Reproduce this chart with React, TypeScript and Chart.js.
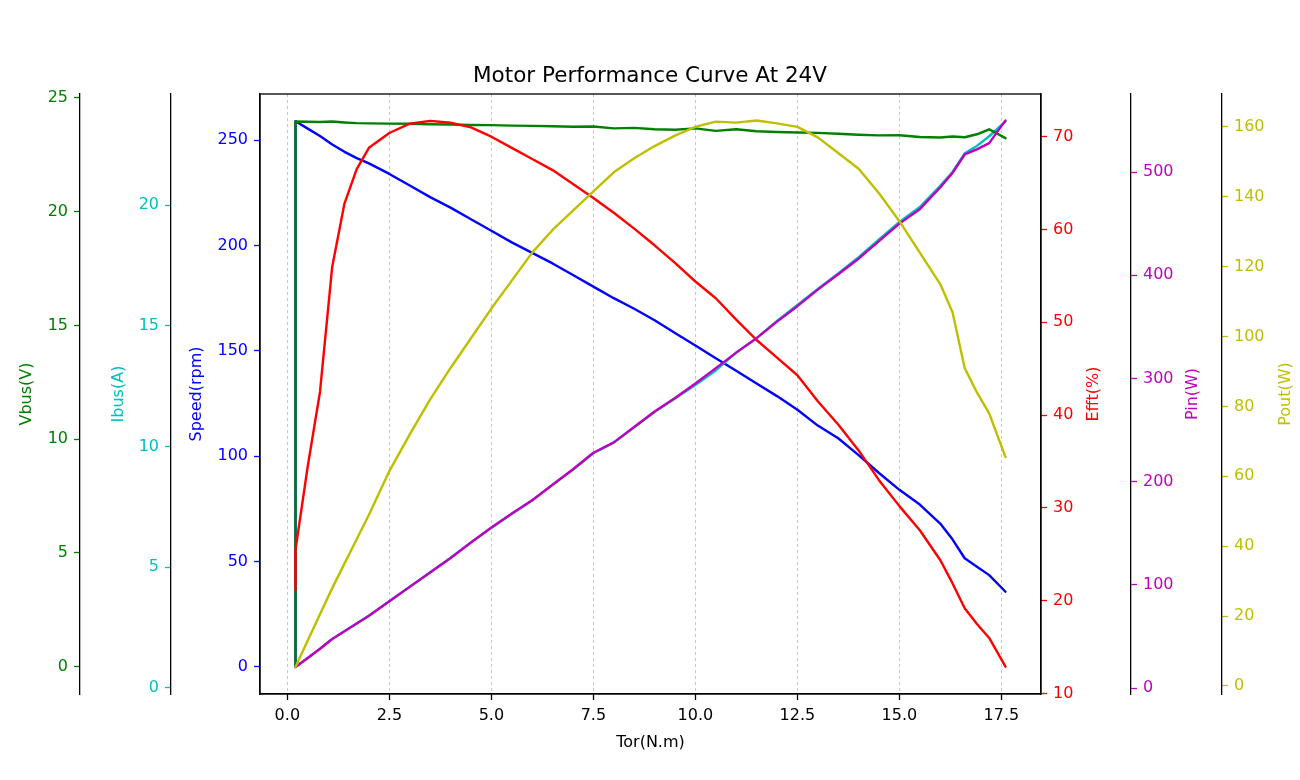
import { useEffect, useRef } from 'react';
import { Chart, registerables } from 'chart.js';

Chart.register(...registerables);

// ---------- data ----------
const torque = [0.2, 0.2, 0.5, 0.8, 1.1, 1.4, 1.7, 2.0, 2.5, 3.0, 3.5, 4.0, 4.5, 5.0, 5.5, 6.0, 6.5, 7.0, 7.5, 8.0, 8.5, 9.0, 9.5, 10.0, 10.5, 11.0, 11.5, 12.0, 12.5, 13.0, 13.5, 14.0, 14.5, 15.0, 15.5, 16.0, 16.3, 16.6, 16.9, 17.2, 17.6];

const speed = [0, 259, 255.5, 252, 248, 244.5, 241.5, 239, 234, 228.5, 223, 218, 212.5, 207, 201.5, 196.5, 191.5, 186, 180.5, 175, 170, 164.5, 158.5, 152.5, 146.5, 140.5, 134.5, 128.5, 122, 114.5, 108.5, 100.5, 92, 84, 77, 68, 60.5, 51.5, 47.5, 43.5, 35.6];

const vbus = [0, 23.96, 23.95, 23.94, 23.96, 23.92, 23.89, 23.88, 23.87, 23.86, 23.84, 23.83, 23.81, 23.8, 23.78, 23.77, 23.75, 23.73, 23.74, 23.66, 23.68, 23.62, 23.6, 23.66, 23.55, 23.62, 23.53, 23.5, 23.48, 23.46, 23.42, 23.38, 23.35, 23.36, 23.28, 23.26, 23.3, 23.27, 23.4, 23.62, 23.23];

const ibus = [0.87, 0.87, 1.24, 1.62, 2.03, 2.35, 2.67, 2.99, 3.59, 4.19, 4.79, 5.38, 6.03, 6.63, 7.2, 7.76, 8.42, 9.04, 9.72, 10.16, 10.8, 11.43, 11.99, 12.55, 13.15, 13.89, 14.49, 15.2, 15.86, 16.53, 17.17, 17.84, 18.58, 19.3, 19.92, 20.8, 21.37, 22.14, 22.45, 22.85, 23.47];

const eff = [21.2, 25.5, 34.5, 42.5, 56.0, 62.8, 66.5, 68.8, 70.4, 71.4, 71.7, 71.5, 71.0, 70.0, 68.8, 67.6, 66.4, 64.9, 63.4, 61.8, 60.1, 58.3, 56.4, 54.4, 52.6, 50.3, 48.1, 46.2, 44.3, 41.5, 39.0, 36.2, 33.0, 30.2, 27.6, 24.4, 21.9, 19.2, 17.5, 16.0, 12.9];

const pin = [20.3, 20.3, 29, 38, 47.5, 55, 62.5, 70, 84, 98, 112, 126, 141, 155.5, 169, 182, 197, 212, 228, 238, 253, 268, 281, 295, 310, 325, 339, 355, 370, 386, 401, 416, 433, 450, 464, 485, 499, 517, 522, 528, 550];

const pout = [5.4, 5.4, 13, 20.5, 28, 35, 42, 49, 61.5, 72, 82, 91, 99.5, 108, 116, 124, 130.5, 136, 141.5, 147, 151, 154.5, 157.5, 160, 161.5, 161.2, 161.8, 161, 160, 157, 152.5, 148, 141, 133, 124, 115, 107, 91, 84, 78, 65.5];

// tick values
const xTicks = [0, 2.5, 5, 7.5, 10, 12.5, 15, 17.5];
const speedTicks = [0, 50, 100, 150, 200, 250];
const vbusTicks = [0, 5, 10, 15, 20, 25];
const ibusTicks = [0, 5, 10, 15, 20];
const effTicks = [10, 20, 30, 40, 50, 60, 70];
const pinTicks = [0, 100, 200, 300, 400, 500];
const poutTicks = [0, 20, 40, 60, 80, 100, 120, 140, 160];

const titleText = 'Motor Performance Curve At 24V';
const xLabel = 'Tor(N.m)';

const FONT = "'DejaVu Sans', sans-serif";

const C_SPEED = '#0000ff';
const C_VBUS = '#008000';
const C_IBUS = '#00bfbf';
const C_EFF = '#ff0000';
const C_PIN = '#bf00bf';
const C_POUT = '#bfbf00';

const axisTitles = [
  { id: 'yV', text: 'Vbus(V)', color: C_VBUS, dx: 27 },
  { id: 'yI', text: 'Ibus(A)', color: C_IBUS, dx: 39 },
  { id: 'yS', text: 'Speed(rpm)', color: C_SPEED, dx: 26 },
  { id: 'yE', text: 'Efft(%)', color: C_EFF, dx: 53 },
  { id: 'yPin', text: 'Pin(W)', color: C_PIN, dx: 62 },
  { id: 'yPout', text: 'Pout(W)', color: C_POUT, dx: 64 },
];

function yAxis(position: string, color: string, ticks: number[], min: number, max: number, width: number) {
  return {
    type: 'linear',
    position,
    min,
    max,
    bounds: 'data',
    afterFit: (s: any) => {
      s.width = width;
    },
    afterBuildTicks: (s: any) => {
      s.ticks = ticks.map((v) => ({ value: v }));
    },
    border: { display: true, color: '#000', width: 1.3 },
    grid: {
      display: true,
      drawOnChartArea: false,
      drawTicks: true,
      tickLength: 6,
      tickColor: color,
      tickWidth: 1.3,
      color,
    },
    ticks: {
      color,
      font: { family: FONT, size: 16 },
      padding: 6,
      autoSkip: false,
      callback: (v: any) => String(v),
    },
    title: { display: false },
  };
}

const decorPlugin = {
  id: 'decor',
  afterDraw(chart: any) {
    const ctx = chart.ctx;
    const a = chart.chartArea;
    ctx.save();
    ctx.strokeStyle = '#000';
    ctx.lineWidth = 1.3;
    ctx.strokeRect(a.left, a.top, a.right - a.left, a.bottom - a.top);
    ctx.font = `16px ${FONT}`;
    ctx.textAlign = 'center';
    ctx.textBaseline = 'middle';
    const cy = (a.top + a.bottom) / 2;
    for (const t of axisTitles) {
      const s = chart.scales[t.id];
      if (!s) continue;
      ctx.save();
      ctx.translate(s.left + t.dx, cy);
      ctx.rotate(-Math.PI / 2);
      ctx.fillStyle = t.color;
      ctx.fillText(t.text, 0, 0);
      ctx.restore();
    }
    ctx.restore();
  },
};

function pts(series: number[]) {
  return torque.map((x, i) => ({ x, y: series[i] }));
}

function ds(label: string, series: number[], color: string, axis: string) {
  return {
    label,
    data: pts(series),
    borderColor: color,
    backgroundColor: color,
    borderWidth: 2.4,
    pointRadius: 0,
    tension: 0,
    fill: false,
    borderJoinStyle: 'round',
    borderCapStyle: 'round',
    yAxisID: axis,
  };
}

export default function App() {
  const ref = useRef<HTMLCanvasElement>(null);

  useEffect(() => {
    if (!ref.current) return;
    const chart = new Chart(ref.current, {
      type: 'line',
      data: {
        datasets: [
          ds('Pout', pout, C_POUT, 'yPout'),
          ds('Pin', pin, C_PIN, 'yPin'),
          ds('Eff', eff, C_EFF, 'yE'),
          ds('Vbus', vbus, C_VBUS, 'yV'),
          ds('Ibus', ibus, C_IBUS, 'yI'),
          ds('Speed', speed, C_SPEED, 'yS'),
        ] as any,
      },
      options: {
        responsive: false,
        maintainAspectRatio: false,
        animation: false,
        devicePixelRatio: 1,
        layout: { padding: 0 },
        plugins: {
          legend: { display: false },
          tooltip: { enabled: false },
          title: {
            display: true,
            text: titleText,
            color: '#000',
            font: { family: FONT, size: 21.5, weight: 'normal' },
            padding: { top: 64, bottom: 94 - 64 - 25.8 },
          },
        },
        scales: {
          x: {
            type: 'linear',
            position: 'bottom',
            min: -0.67,
            max: 18.47,
            bounds: 'data',
            afterFit: (s: any) => {
              s.height = 86;
            },
            afterBuildTicks: (s: any) => {
              s.ticks = xTicks.map((v) => ({ value: v }));
            },
            border: { display: true, color: '#000', width: 1.3, dash: [3, 3] },
            grid: {
              display: true,
              drawOnChartArea: true,
              drawTicks: true,
              color: '#b8b8b8',
              lineWidth: 0.8,
              tickLength: 6,
              tickColor: '#000',
              tickWidth: 1.3,
              tickBorderDash: [],
            },
            ticks: {
              color: '#000',
              font: { family: FONT, size: 16 },
              padding: 6,
              autoSkip: false,
              maxRotation: 0,
              callback: (v: any) => Number(v).toFixed(1),
            },
            title: {
              display: true,
              text: xLabel,
              color: '#000',
              font: { family: FONT, size: 16 },
              padding: { top: 4, bottom: 28 },
            },
          },
          yS: yAxis('left', C_SPEED, speedTicks, -12.95, 271.95, 89),
          yI: yAxis('left', C_IBUS, ibusTicks, -0.25, 24.6, 91),
          yV: yAxis('left', C_VBUS, vbusTicks, -1.2, 25.17, 80),
          yE: yAxis('right', C_EFF, effTicks, 9.96, 74.6, 90),
          yPin: yAxis('right', C_PIN, pinTicks, -5.8, 575.6, 91),
          yPout: yAxis('right', C_POUT, poutTicks, -2.3, 169.4, 78),
        } as any,
      },
      plugins: [decorPlugin],
    } as any);
    return () => chart.destroy();
  }, []);

  return (
    <div style={{ position: 'fixed', left: 0, top: 0, width: 1300, height: 780, background: '#fff' }}>
      <canvas ref={ref} width={1300} height={780} style={{ display: 'block' }} />
    </div>
  );
}
